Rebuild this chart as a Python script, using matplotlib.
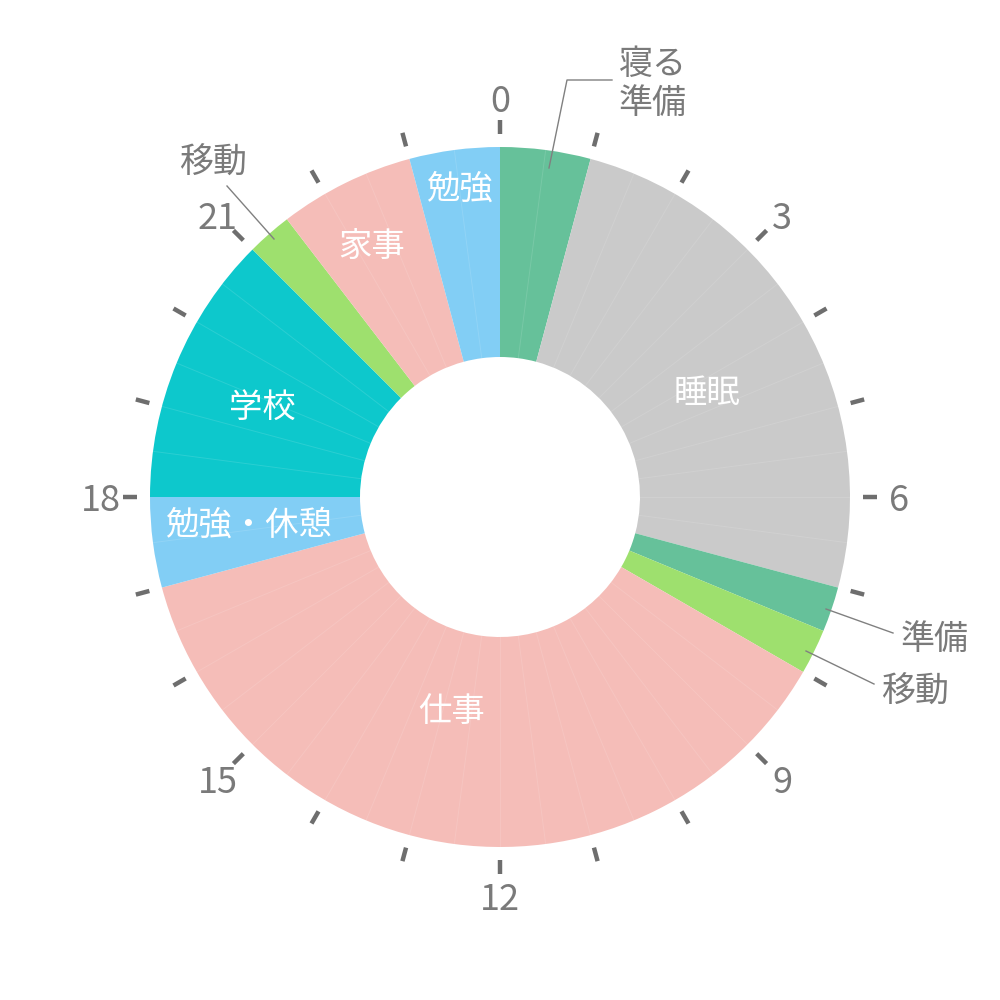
import numpy as np
import matplotlib
matplotlib.use('Agg')
import matplotlib.pyplot as plt

plt.rcParams['font.family'] = ['Noto Sans CJK JP', 'DejaVu Sans']

# one day, clockwise from 0:00
activities = ['寝る準備', '睡眠', '準備', '移動', '仕事', '勉強・休憩', '学校', '移動', '家事', '勉強']
hours = [1, 6, 0.5, 0.5, 9, 1, 3, 0.5, 1.5, 1]
colors = ['#66C19A', '#CACACA', '#66C19A', '#9EE06E', '#F5BDB8',
          '#82CEF5', '#0DC8CC', '#9EE06E', '#F5BDB8', '#82CEF5']
hour_labels = [0, 3, 6, 9, 12, 15, 18, 21]

R_OUT, R_IN = 350, 140
GRAY = '#7A7A7A'

fig = plt.figure(figsize=(10, 10), dpi=100)
ax = fig.add_axes([0, 0, 1, 1])

ax.pie(hours, colors=colors, startangle=90, counterclock=False,
       radius=R_OUT, wedgeprops=dict(width=R_OUT - R_IN, linewidth=0))

def pos(h, r):
    t = np.radians(90 - 15 * h)
    return r * np.cos(t), r * np.sin(t)

# faint half-hour seams inside each block
start = 0
for h in hours:
    k = 0.5
    while k < h - 1e-9:
        x0, y0 = pos(start + k, R_IN)
        x1, y1 = pos(start + k, R_OUT)
        ax.plot([x0, x1], [y0, y1], color='white', alpha=0.12, lw=0.7)
        k += 0.5
    start += h

# hour ticks
for h in range(24):
    x0, y0 = pos(h, 363)
    x1, y1 = pos(h, 377)
    ax.plot([x0, x1], [y0, y1], color='#6E6E6E', lw=3.2, solid_capstyle='butt')

for h in hour_labels:
    x, y = pos(h, 399)
    ax.text(x, y - 4, str(h), color=GRAY, fontsize=26, ha='center', va='center')

# labels inside the ring: (block index, hour position, radius)
inner = [(1, 4.2, 232), (4, 12.85, 218), (5, 17.6, 253), (6, 19.4, 255),
         (8, 22.2, 283), (9, 23.5, 313)]
for i, h, r in inner:
    x, y = pos(h, r)
    ax.text(x, y - 2, activities[i], color='white', fontsize=24, ha='center', va='center')

# labels outside with leader lines
def leader(i, pts, tx, ty):
    xs = [p[0] - 500 for p in pts]
    ys = [497 - p[1] for p in pts]
    ax.plot(xs, ys, color='#808080', lw=1)
    text = activities[i]
    if text == '寝る準備':
        text = '寝る\n準備'
    ax.text(tx - 500, 497 - ty, text, color=GRAY, fontsize=24.5,
            ha='center', va='center', linespacing=1.12)

leader(0, [(549, 168), (567, 80), (612, 80)], 653, 84)
leader(2, [(826, 609), (893, 633)], 935, 639)
leader(3, [(806, 651), (874, 684)], 915, 692)
leader(7, [(274, 239), (227, 186)], 213, 163)

ax.set_xlim(-500, 500)
ax.set_ylim(-503, 497)
ax.set_aspect('equal')
ax.axis('off')

fig.savefig('out.png', dpi=100, facecolor='white')
